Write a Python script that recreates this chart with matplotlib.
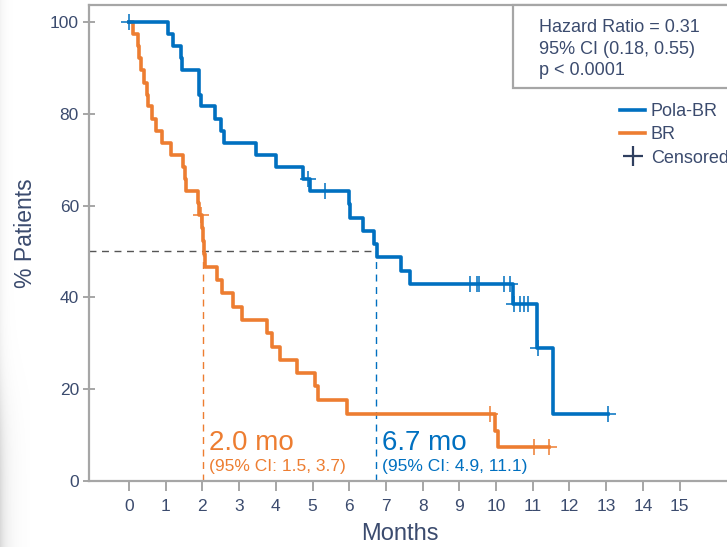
import numpy as np
import matplotlib.pyplot as plt
from matplotlib.lines import Line2D
from matplotlib.patches import Rectangle

plt.rcParams['font.family'] = ['Liberation Sans', 'DejaVu Sans']

# =========================
# Data
# =========================
# Pola-BR: event times (months) and survival (%) after each step
pola_t = [0, 1.05, 1.20, 1.42, 1.44, 1.90, 1.95, 2.34, 2.50, 2.59, 3.46, 4.00,
          4.75, 4.93, 6.00, 6.03, 6.37, 6.68, 6.75, 7.40, 7.66, 10.45, 11.11,
          11.56, 13.04]
pola_s = [100, 97.4, 94.7, 92.1, 89.5, 84.2, 81.6, 78.9, 76.3, 73.7, 71.1, 68.4,
          65.8, 63.2, 60.3, 57.4, 54.5, 51.6, 48.7, 45.8, 42.9, 38.6, 29.0,
          14.5, 14.5]
pola_cens_t = [0, 4.87, 5.34, 9.29, 9.47, 9.54, 10.22, 10.38, 10.50, 10.64,
               10.75, 10.88, 11.15, 13.04]
pola_cens_s = [100, 65.8, 63.2, 42.9, 42.9, 42.9, 42.9, 42.9, 38.6, 38.6,
               38.6, 38.6, 29.0, 14.5]

# BR
br_t = [0, 0.11, 0.25, 0.27, 0.32, 0.41, 0.50, 0.52, 0.62, 0.73, 0.91, 1.14,
        1.46, 1.53, 1.55, 1.88, 1.91, 1.98, 2.02, 2.05, 2.08, 2.41, 2.52, 2.82,
        3.07, 3.75, 3.89, 4.11, 4.57, 5.07, 5.14, 5.93, 9.97, 10.05, 11.45]
br_s = [100, 97.4, 94.7, 92.1, 89.5, 86.8, 84.2, 81.6, 78.9, 76.3, 73.7, 71.1,
        68.4, 65.8, 63.2, 60.5, 57.9, 55.1, 52.2, 49.4, 46.6, 43.8, 40.9, 38.0,
        35.1, 32.2, 29.3, 26.4, 23.5, 20.6, 17.6, 14.7, 11.0, 7.4, 7.4]
br_cens_t = [1.95, 9.84, 11.02, 11.45]
br_cens_s = [57.9, 14.7, 7.4, 7.4]

# medians (crossing of 50%)
median_br = 2.02
median_pola = 6.73

x_ticks = list(range(0, 16))
y_ticks = [0, 20, 40, 60, 80, 100]

hr_lines = ["Hazard Ratio = 0.31", "95% CI (0.18, 0.55)", "p < 0.0001"]

BLUE = "#0070C0"
ORANGE = "#ED7D31"
NAVY = "#3B4B6E"
GREY = "#A6A6A6"

# =========================
# Figure
# =========================
fig = plt.figure(figsize=(7.27, 5.47), dpi=100)

# soft slide shadow on the left edge
shade = fig.add_axes([0, 0, 30 / 727, 1])
yy, xx = np.mgrid[0:547, 0:30]
bottom = 1.0 / (1.0 + np.exp(-(yy - 400) / 25.0))
alpha = 0.10 * np.exp(-xx / 4.0) + 0.22 * bottom * np.exp(-xx / 9.0)
rgba = np.zeros((547, 30, 4))
rgba[..., :3] = 0.55
rgba[..., 3] = alpha
shade.imshow(rgba, aspect="auto", interpolation="bilinear")
shade.axis("off")

ax = fig.add_axes([89 / 727, 66 / 547, (753 - 89) / 727, 476 / 547])
ax.set_xlim(-1.09, 17)
ax.set_ylim(0, 103.7)

# KM curves
ax.step(pola_t, pola_s, where="post", color=BLUE, lw=2.6, zorder=4)
ax.step(br_t, br_s, where="post", color=ORANGE, lw=2.6, zorder=3)
ax.plot(pola_cens_t, pola_cens_s, ls="none", marker="+", ms=11, mew=1.1,
        color=BLUE, zorder=5)
ax.plot(br_cens_t, br_cens_s, ls="none", marker="+", ms=11, mew=1.1,
        color=ORANGE, zorder=5)

# median guide lines
ax.plot([-1.09, median_pola], [50, 50], ls=(0, (5, 4)), color="#555555",
        lw=1.0, zorder=2)
ax.plot([median_br, median_br], [0, 50], ls=(0, (5, 4)), color=ORANGE,
        lw=1.0, zorder=2)
ax.plot([median_pola, median_pola], [0, 50], ls=(0, (5, 4)), color=BLUE,
        lw=1.0, zorder=2)

ax.text(2.18, 6.75, "2.0 mo", color=ORANGE, fontsize=20, va="baseline")
ax.text(2.18, 2.25, "(95% CI: 1.5, 3.7)", color=ORANGE, fontsize=12.5,
        va="baseline")
ax.text(6.88, 6.75, "6.7 mo", color=BLUE, fontsize=20, va="baseline")
ax.text(6.88, 2.25, "(95% CI: 4.9, 11.1)", color=BLUE, fontsize=12.5,
        va="baseline")

# axes styling
for side in ["left", "bottom", "top", "right"]:
    ax.spines[side].set_color(GREY)
    ax.spines[side].set_linewidth(1.6)
ax.set_xticks(x_ticks)
ax.set_yticks(y_ticks)
ax.tick_params(axis="y", direction="inout", length=8.5, width=1.4,
               color=GREY, labelsize=12.5, labelcolor=NAVY, pad=3)
ax.tick_params(axis="x", direction="out", length=7, width=1.4,
               color=GREY, labelsize=12.5, labelcolor=NAVY, pad=6)

fig.text(26 / 727, (547 - 233) / 547, "% Patients", rotation=90,
         ha="center", va="center", fontsize=16.5, color=NAVY)
fig.text(400 / 727, (547 - 534) / 547, "Months", ha="center", va="center",
         fontsize=17, color=NAVY)

# hazard ratio box
fig.patches.append(Rectangle((513 / 727, (547 - 88) / 547), 0.5, 83 / 547,
                             transform=fig.transFigure, facecolor="white",
                             edgecolor=GREY, lw=1.6, zorder=10))
fig.text(539 / 727, (547 - 19) / 547, "\n".join(hr_lines), ha="left",
         va="top", fontsize=13, color=NAVY, linespacing=1.36, zorder=11)

# legend
handles = [
    Line2D([], [], color=BLUE, lw=2.6),
    Line2D([], [], color=ORANGE, lw=2.6),
    Line2D([], [], ls="none", marker="+", ms=14, mew=1.6, color="#2F3F5F"),
]
fig.legend(handles, ["Pola-BR", "BR", "Censored"], loc="upper left",
           bbox_to_anchor=(620 / 727, (547 - 103) / 547), frameon=False,
           fontsize=13, handlelength=1.4, handletextpad=0.3,
           labelspacing=0.35, borderpad=0, borderaxespad=0,
           labelcolor=NAVY)

fig.savefig("out.png", dpi=100)
